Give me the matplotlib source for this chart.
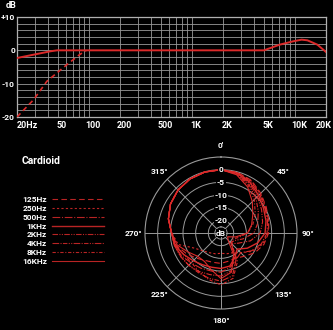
import numpy as np
import matplotlib
matplotlib.use("Agg")
import matplotlib.pyplot as plt
from matplotlib import font_manager
from matplotlib.transforms import ScaledTranslation

# frequency response (top chart)
resp_freq = [20, 29, 42, 49, 100, 1000, 5000, 7100, 9600, 11600, 13200, 16500, 20000]
resp_db = [-2.3, -1.3, -0.3, 0, 0, 0, 0, 1.7, 2.7, 3.2, 3.0, 1.7, -0.5]
cut_freq = [20, 29, 39, 50, 61, 81, 94]
cut_db = [-20, -14.8, -9.3, -6.5, -4.3, -1.3, 0]

freq_ticks = [20, 50, 100, 200, 500, 1000, 2000, 5000, 10000, 20000]
freq_labels = ["20Hz", "50", "100", "200", "500", "1K", "2K", "5K", "10K", "20K"]
db_ticks = [-20, -10, 0, 10]
db_labels = ["-20", "-10", "0", "+10"]

# polar response, dB every 15 degrees (0..345)
angles = [0, 15, 30, 45, 60, 75, 90, 105, 120, 135, 150, 165,
          180, 195, 210, 225, 240, 255, 270, 285, 300, 315, 330, 345]
bands = ["125Hz", "250Hz", "500Hz", "1KHz", "2KHz", "4KHz", "8KHz", "16KHz"]
polar_db = {
    "125Hz": [0, -0.2, -1.0, -2.8, -4.4, -5.5, -6.2, -7.5, -9.5, -12, -13.5, -13.5,
              -13, -13, -12.5, -11, -9, -6.5, -5.5, -3.5, -2, -1, -0.4, -0.1],
    "250Hz": [0, -0.3, -1.2, -3.0, -4.7, -5.7, -6.4, -8, -10.5, -14, -16, -16.5,
              -17, -16.5, -16, -15, -13, -7.5, -5.6, -3.5, -2, -1, -0.4, -0.1],
    "500Hz": [0, -0.4, -1.5, -3.4, -5.0, -6.0, -6.8, -8.5, -11, -14, -13, -11,
              -9.5, -9.5, -9, -8.3, -7, -6, -5.4, -3.5, -2, -1, -0.4, -0.1],
    "1KHz": [0, -0.5, -2.0, -4.0, -5.6, -6.6, -7.6, -10, -13, -16, -14, -11.5,
             -11, -11, -10.5, -9.5, -8, -6.2, -5.5, -3.5, -2, -1, -0.4, -0.1],
    "2KHz": [0, -0.6, -2.4, -4.7, -6.5, -8.0, -9.5, -13, -17, -19, -15, -9.5,
             -8, -8, -7.5, -7, -6.6, -6, -5.5, -3.5, -2, -1, -0.4, -0.1],
    "4KHz": [0, -0.8, -2.9, -5.5, -8.0, -10, -12, -16, -19, -19.5, -13, -7.5,
             -6, -6.5, -7, -7, -6.5, -6, -5.5, -3.5, -2, -1, -0.4, -0.1],
    "8KHz": [0, -1.0, -3.4, -6.4, -9.4, -12, -14.5, -18, -20, -19, -12, -6.5,
             -4.5, -6, -7.5, -8.5, -8, -6.5, -5.5, -3.5, -2, -1, -0.4, -0.1],
    "16KHz": [0, -1.2, -4.0, -7.5, -10.5, -12.5, -14.5, -19, -22, -21, -15, -9,
              -7, -10, -12, -12, -10, -7, -5.5, -3.5, -2, -1, -0.4, -0.1],
}
band_dashes = {
    "125Hz": (0, (5, 3)),
    "250Hz": (0, (2, 2)),
    "500Hz": (0, (7, 1.5, 1, 1.5)),
    "1KHz": "-",
    "2KHz": (0, (5, 1.2, 1, 1.2, 1, 1.2)),
    "4KHz": (0, (6, 1.2, 1, 1.2, 4, 1.2, 1, 1.2, 1, 1.2)),
    "8KHz": (0, (3, 1.5, 1, 1.5)),
    "16KHz": "-",
}
angle_marks = [0, 45, 90, 135, 180, 225, 270, 315]
angle_labels = ["0'", "45°", "90°", "135°", "180°", "225°", "270°", "315°"]
ring_values = [0, -5, -10, -15, -20]

installed = {f.name for f in font_manager.fontManager.ttflist}
FONT = "Liberation Sans Narrow" if "Liberation Sans Narrow" in installed else "Roboto"
plt.rcParams["font.family"] = [FONT, "DejaVu Sans"]

RED = "#dc2a2a"
GRID = "#9a9a9a"

fig = plt.figure(figsize=(3.33, 3.30), dpi=100, facecolor="black")

# ---- frequency response ----
ax1 = fig.add_axes([17 / 333, 1 - 117 / 330, 309 / 333, 100 / 330])
ax1.set_facecolor("black")
ax1.semilogx(resp_freq, resp_db, color=RED, lw=1.4, zorder=3)
ax1.semilogx(cut_freq, cut_db, color=RED, lw=1.2, dashes=(3, 2.2), zorder=3)
ax1.set_xlim(20, 20000)
ax1.set_ylim(-20, 10)
ax1.set_yticks(db_ticks)
ax1.set_yticklabels(db_labels)
ax1.set_yticks(np.arange(-20, 11, 2), minor=True)
ax1.set_xticks(freq_ticks)
ax1.set_xticklabels(freq_labels)
ax1.grid(which="both", color=GRID, lw=0.6)
ax1.tick_params(which="both", length=0, colors="white", labelsize=6.5, pad=3)
ax1.tick_params(axis="y", labelsize=6, pad=1.5)
for lab in ax1.get_xticklabels() + ax1.get_yticklabels():
    lab.set_fontweight("bold")
shift = ScaledTranslation(4 / 100, 0, fig.dpi_scale_trans)
xl = ax1.get_xticklabels()
for lab in xl[1:-1]:
    lab.set_transform(lab.get_transform() + shift)
xl[0].set_ha("left")
xl[-1].set_transform(xl[-1].get_transform() + ScaledTranslation(-2 / 100, 0, fig.dpi_scale_trans))
for s in ax1.spines.values():
    s.set_color("#b0b0b0")
    s.set_linewidth(0.9)
fig.text(11 / 333, 1 - 6 / 330, "dB", color="white", fontsize=6.5, fontweight="bold",
         ha="center", va="center")

# ---- polar pattern ----
axp = fig.add_axes([145 / 333, 21 / 330, 152 / 333, 152 / 330], projection="polar")
axp.set_facecolor("black")
axp.set_theta_zero_location("N")
axp.set_theta_direction(-1)
axp.set_ylim(-25, 5)
axp.set_yticks([-22.6] + ring_values)
axp.set_yticklabels([])
axp.set_xticks(np.deg2rad(angle_marks[1:]))
axp.set_xticklabels([])
axp.grid(color=GRID, lw=0.7)
axp.spines["polar"].set_color(GRID)
axp.spines["polar"].set_linewidth(0.8)

theta = np.deg2rad(angles + [360])
for band in bands:
    vals = polar_db[band] + polar_db[band][:1]
    lw = 1.0 if band in ("1KHz",) else 0.8
    axp.plot(theta, vals, color=RED, lw=lw, linestyle=band_dashes[band], label=band, zorder=3)

for v in ring_values:
    axp.text(0, v, str(v), color="white", fontsize=6, fontweight="bold", ha="center",
             va="center", zorder=5, bbox=dict(facecolor="black", edgecolor="none", pad=0.4))
axp.text(0, -25, "dB", color="white", fontsize=6, fontweight="bold", ha="center",
         va="center", zorder=5, bbox=dict(facecolor="black", edgecolor="none", pad=0.3))
for a, t in zip(angle_marks, angle_labels):
    axp.text(np.deg2rad(a), 9.5, t, color="white", fontsize=6, fontweight="bold",
             ha="center", va="center")

fig.text(22 / 333, 1 - 161 / 330, "Cardioid", color="white", fontsize=7.5,
         fontweight="bold", ha="left", va="center")

leg = axp.legend(loc="upper left", bbox_to_anchor=(22 / 333, 1 - 196 / 330),
                 bbox_transform=fig.transFigure, frameon=False, markerfirst=False,
                 fontsize=6, handlelength=6.2, handletextpad=0.6, labelspacing=0.22,
                 borderpad=0, borderaxespad=0)
for t in leg.get_texts():
    t.set_color("white")
    t.set_fontweight("bold")
for h in leg.get_lines():
    h.set_color("#b82424")

fig.savefig("out.png", dpi=100, facecolor="black")
